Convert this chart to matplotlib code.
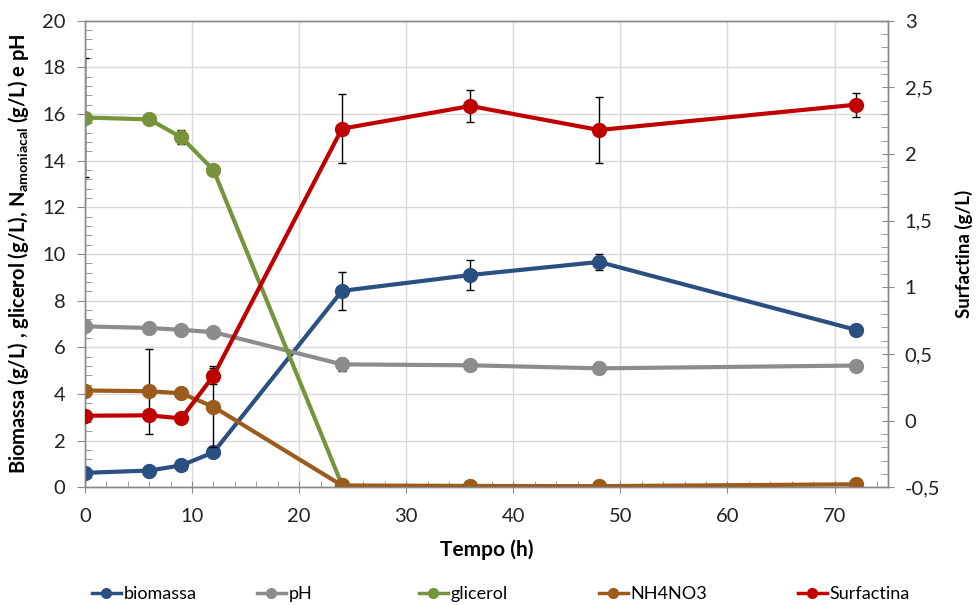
import matplotlib
matplotlib.use("Agg")
import matplotlib.pyplot as plt
from matplotlib.lines import Line2D
from matplotlib.ticker import MultipleLocator, FuncFormatter

plt.rcParams["font.family"] = ["Lato", "DejaVu Sans"]
plt.rcParams["mathtext.fontset"] = "custom"
plt.rcParams["mathtext.rm"] = "Lato"
plt.rcParams["mathtext.bf"] = "Lato:bold"

# data
tempo = [0, 6, 9, 12, 24, 36, 48, 72]
biomassa = [0.62, 0.72, 0.94, 1.5, 8.42, 9.1, 9.66, 6.75]
biomassa_err = [0, 0, 0, 0, 0.8, 0.63, 0.33, 0]
ph = [6.9, 6.83, 6.75, 6.65, 5.27, 5.23, 5.1, 5.22]
ph_err = [0, 0, 0, 0, 0.27, 0, 0, 0]
tempo_glic = [0, 6, 9, 12, 24]
glicerol = [15.85, 15.77, 15.0, 13.6, 0.1]
glicerol_err = [2.56, 0, 0.3, 0, 0]
nh4no3 = [4.15, 4.12, 4.03, 3.45, 0.08, 0.06, 0.05, 0.13]
nh4no3_err = [0, 1.83, 0, 1.73, 0, 0, 0, 0]
surfactina = [0.037, 0.04, 0.017, 0.337, 2.19, 2.36, 2.18, 2.37]
surfactina_err = [0, 0, 0, 0.06, 0.26, 0.12, 0.25, 0.09]

C_BIO = "#2a5082"
C_PH = "#8c8c8c"
C_GLI = "#77933c"
C_NH4 = "#9c5a1c"
C_SUR = "#c00000"
SPINE = "#8a8a8a"
GRID = "#d9d9d9"

fig = plt.figure(figsize=(9.77, 6.05), dpi=100)
ax = fig.add_axes([0.087, 0.1945, 0.822, 0.7713])
ax2 = ax.twinx()

line_kw = dict(lw=3, marker="o", ms=10, elinewidth=1, ecolor="black", capsize=3, capthick=1)

def series(a, x, y, err, color, z):
    yerr = [e if e > 0 else float("nan") for e in err]
    a.errorbar(x, y, yerr=yerr, color=color, zorder=z, **line_kw)

series(ax, tempo, biomassa, biomassa_err, C_BIO, 3)
series(ax, tempo, ph, ph_err, C_PH, 4)
series(ax, tempo_glic, glicerol, glicerol_err, C_GLI, 5)
series(ax, tempo, nh4no3, nh4no3_err, C_NH4, 6)
series(ax2, tempo, surfactina, surfactina_err, C_SUR, 7)

ax.set_xlim(0, 75)
ax.set_ylim(0, 20)
ax2.set_ylim(-0.5, 3)

ax.xaxis.set_major_locator(MultipleLocator(10))
ax.xaxis.set_minor_locator(MultipleLocator(2))
ax.yaxis.set_major_locator(MultipleLocator(2))
ax.yaxis.set_minor_locator(MultipleLocator(0.4))
ax2.yaxis.set_major_locator(MultipleLocator(0.5))
ax2.yaxis.set_minor_locator(MultipleLocator(0.1))
ax2.yaxis.set_major_formatter(FuncFormatter(lambda v, p: f"{v:g}".replace(".", ",")))

ax.grid(True, which="major", color=GRID, lw=1)
ax.set_axisbelow(True)

for a in (ax, ax2):
    for s in a.spines.values():
        s.set_color(SPINE)
        s.set_linewidth(1)

TICK_FS = 14.5
ax.tick_params(axis="x", which="major", direction="inout", length=8, color=SPINE,
               labelsize=TICK_FS, pad=11, labelcolor="#222222")
ax.tick_params(axis="x", which="minor", direction="in", length=4, color=SPINE)
ax.tick_params(axis="y", which="major", direction="out", length=6, color=SPINE,
               labelsize=TICK_FS, pad=8, labelcolor="#222222")
ax.tick_params(axis="y", which="minor", direction="in", length=5, color=SPINE)
ax2.tick_params(axis="y", which="major", direction="inout", length=8, color=SPINE,
                labelsize=TICK_FS, pad=8, labelcolor="#222222")
ax2.tick_params(axis="y", which="minor", direction="in", length=5, color=SPINE)

ax.set_xlabel("Tempo (h)", fontsize=15, fontweight="bold", labelpad=10)
ax.set_ylabel(r"Biomassa (g/L) , glicerol (g/L), N$_{\mathbf{amoniacal}}$ (g/L) e pH",
              fontsize=14.5, fontweight="bold")
ax.yaxis.set_label_coords(-0.067, 0.5)
ax2.set_ylabel("Surfactina (g/L)", fontsize=13.5, fontweight="bold")
ax2.yaxis.set_label_coords(1.083, 0.5)

labels = ["biomassa", "pH", "glicerol", "NH4NO3", "Surfactina"]
colors = [C_BIO, C_PH, C_GLI, C_NH4, C_SUR]
legend_x = [92, 257, 419, 599, 798]
for lab, col, xp in zip(labels, colors, legend_x):
    h = Line2D([], [], color=col, lw=2.5, marker="o", ms=7)
    fig.legend([h], [lab], loc="center left", bbox_to_anchor=(xp / 977, 0.018),
               frameon=False, fontsize=13, handlelength=1.6, handletextpad=0.15,
               borderpad=0, borderaxespad=0)

fig.savefig("out.png", dpi=100)
